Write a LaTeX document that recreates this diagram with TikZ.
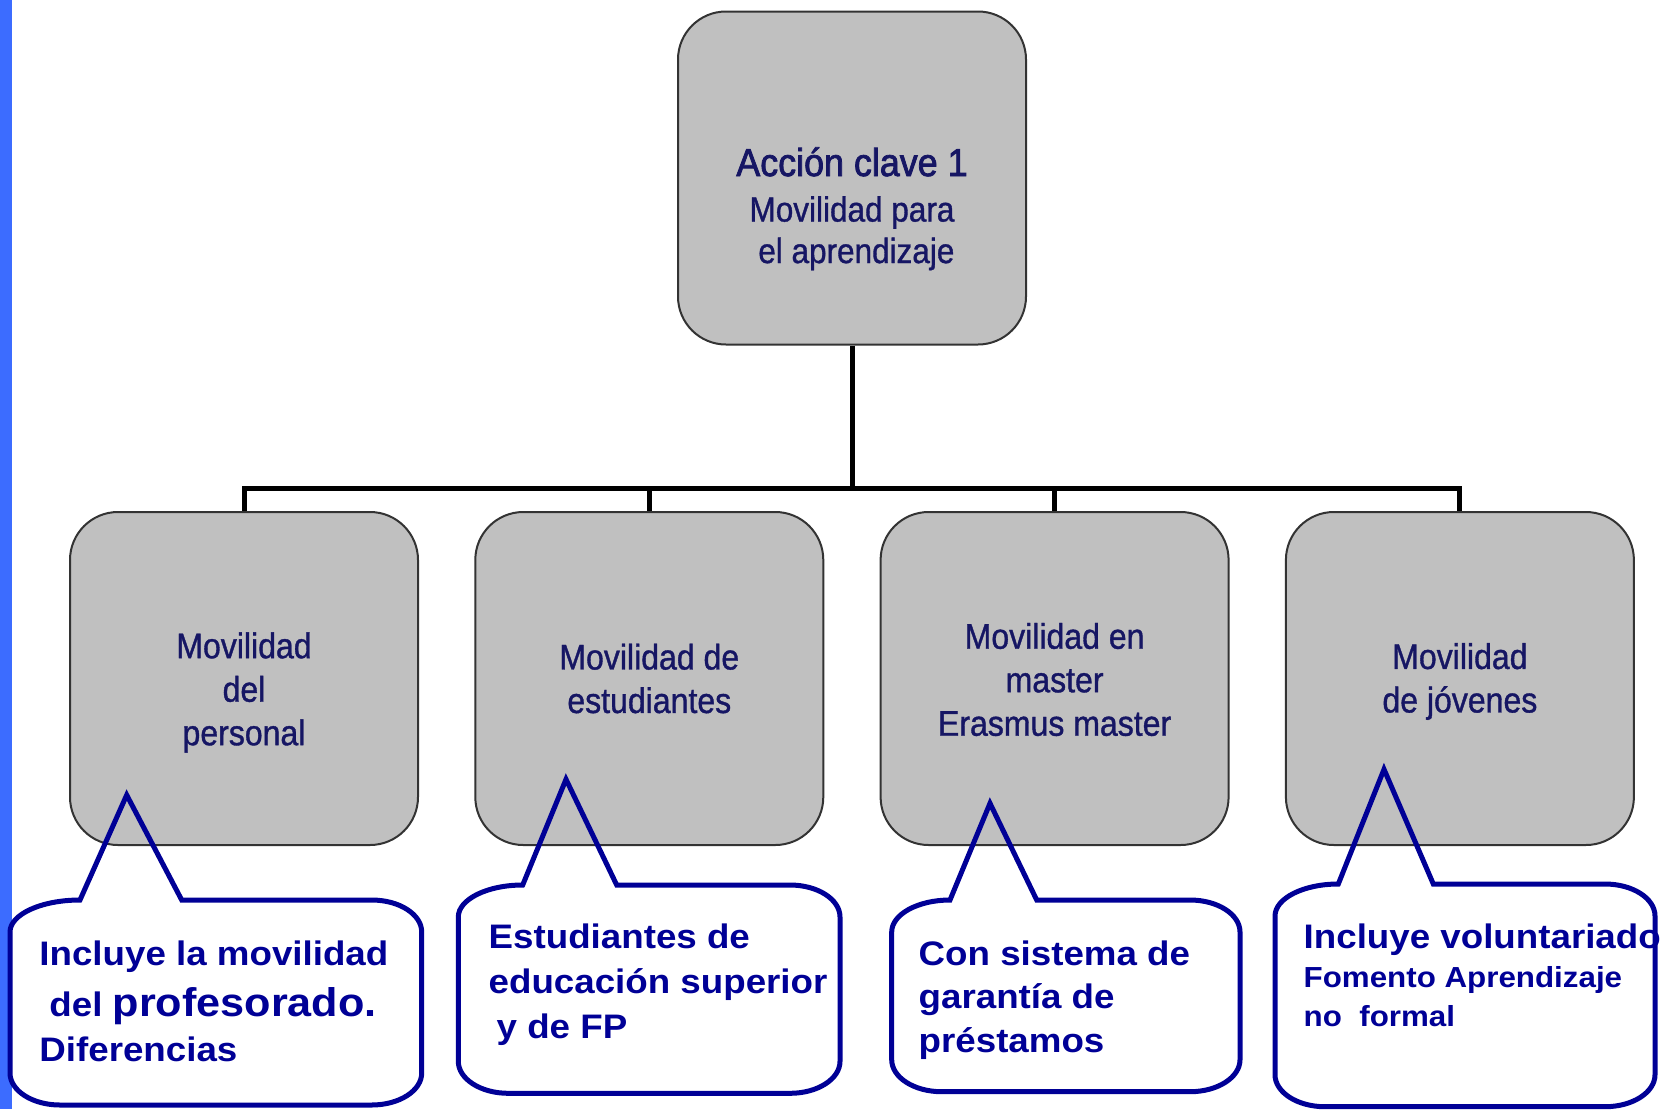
\documentclass[tikz,border=0pt]{standalone}
\usepackage{fontspec}
\usepackage{tikz}
\usetikzlibrary{positioning}
\newfontfamily\boxfont[FakeStretch=0.9,FakeBold=1]{Liberation Sans}
\newfontfamily\keyfont[FakeStretch=0.92,FakeBold=2]{Liberation Sans}
\newfontfamily\callfont[FakeStretch=1.08]{Liberation Sans Bold}
\definecolor{barblue}{RGB}{60,108,255}
\definecolor{boxgray}{RGB}{192,192,192}
\definecolor{boxtext}{RGB}{22,22,100}
\definecolor{callblue}{RGB}{0,0,150}

\begin{document}
\begin{tikzpicture}[x=0.5pt,y=0.5pt]
\tikzstyle{box}=[rectangle, rounded corners=24pt, minimum width=174pt, minimum height=166.5pt, draw=black!80, line width=1pt, fill=boxgray]
\tikzstyle{boxlbl}=[align=center, inner sep=0pt, text=boxtext, font=\boxfont\fontsize{17.8pt}{21.75pt}\selectfont]
\tikzstyle{keylbl}=[boxlbl, font=\boxfont\fontsize{17.5pt}{20.75pt}\selectfont]
\tikzstyle{tree}=[line width=2.5pt]
\tikzstyle{callout}=[draw=callblue, line width=2.5pt]
\tikzstyle{calltext}=[align=left, anchor=north west, inner sep=0pt, text=callblue, font=\callfont\fontsize{17pt}{22.5pt}\selectfont]
\useasboundingbox (0,0) rectangle (1665,-1109);
\fill[barblue] (0,0) rectangle (12,-1109);

	\node[box] (k_1) at (852,-178) [label={[keylbl,yshift=-15.4pt]center:{{\keyfont\fontsize{19.5pt}{20.75pt}\selectfont Acción clave 1}\\[2pt]Movilidad para\\\hspace*{4.4pt}el aprendizaje}}]{};
	\node[box] (m_1) at (244,-678.5) [label={[boxlbl,yshift=-7pt]center:{Movilidad\\del\\personal}}]{};
	\node[box] (m_2) at (649.3,-678.5) [label={[boxlbl]center:{Movilidad de\\estudiantes}}]{};
	\node[box] (m_3) at (1054.6,-678.5) [label={[boxlbl,yshift=-0.5pt]center:{Movilidad en\\master\\Erasmus master}}]{};
	\node[box] (m_4) at (1459.9,-678.5) [label={[boxlbl,yshift=-1.5pt]center:{Movilidad\\de jóvenes}}]{};
	\coordinate (j) at (852,-488.5);

	\draw[tree] (k_1) -- (j);
	\draw[tree] (j) -| (m_1);
	\draw[tree] (j) -| (m_2);
	\draw[tree] (j) -| (m_3);
	\draw[tree] (j) -| (m_4);

	\draw[callout] (80,-900) -- (126.7,-795) -- (181.7,-900) -- (371.7,-900) arc[start angle=90,end angle=0,x radius=50,y radius=32] -- (421.7,-1073) arc[start angle=0,end angle=-90,x radius=50,y radius=32] -- (60,-1105) arc[start angle=-90,end angle=-180,x radius=50,y radius=32] -- (10,-932) arc[start angle=180,end angle=90,x radius=70,y radius=32] -- cycle;
	\draw[callout] (522.7,-885) -- (566,-779.3) -- (616.7,-885) -- (790,-885) arc[start angle=90,end angle=0,x radius=50,y radius=32] -- (840,-1061.3) arc[start angle=0,end angle=-90,x radius=50,y radius=32] -- (508.3,-1093.3) arc[start angle=-90,end angle=-180,x radius=50,y radius=32] -- (458.3,-917) arc[start angle=180,end angle=90,x radius=64.4,y radius=32] -- cycle;
	\draw[callout] (950,-900) -- (990,-803.3) -- (1036.7,-900) -- (1190,-900) arc[start angle=90,end angle=0,x radius=50,y radius=32] -- (1240,-1059.7) arc[start angle=0,end angle=-90,x radius=50,y radius=32] -- (941.7,-1091.7) arc[start angle=-90,end angle=-180,x radius=50,y radius=32] -- (891.7,-932) arc[start angle=180,end angle=90,x radius=58.3,y radius=32] -- cycle;
	\draw[callout] (1338.3,-884) -- (1384,-769.3) -- (1433.3,-884) -- (1605,-884) arc[start angle=90,end angle=0,x radius=50,y radius=32] -- (1655,-1074.7) arc[start angle=0,end angle=-90,x radius=50,y radius=32] -- (1325,-1106.7) arc[start angle=-90,end angle=-180,x radius=50,y radius=32] -- (1275,-916) arc[start angle=180,end angle=90,x radius=63.3,y radius=32] -- cycle;

	\node[calltext] (c_1) at (39,-940) {Incluye la movilidad\\[3pt]\hspace*{5pt}del {\fontsize{20pt}{22.5pt}\selectfont profesorado.}\\Diferencias};
	\node[calltext] (c_2) at (488.3,-923.3) {Estudiantes de\\educación superior\\\hspace*{4pt}y de FP};
	\node[calltext, font=\callfont\fontsize{17pt}{21.75pt}\selectfont] (c_3) at (918.3,-940) {Con sistema de\\garantía de\\préstamos};
	\node[calltext, font=\callfont\fontsize{14.5pt}{19.5pt}\selectfont] (c_4) at (1303.3,-923.3) {{\fontsize{17pt}{19.5pt}\selectfont Incluye voluntariado}\\Fomento Aprendizaje\\no\ \ formal};

\end{tikzpicture}
\end{document}
